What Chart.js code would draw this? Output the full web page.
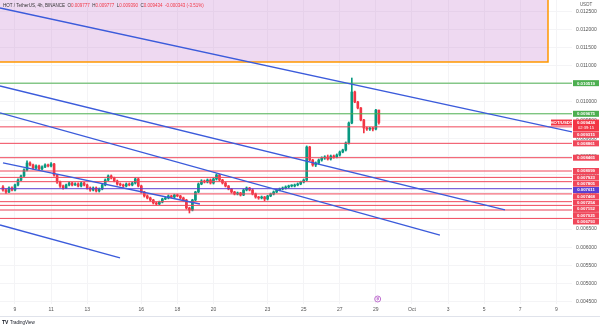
<!DOCTYPE html>
<html><head><meta charset="utf-8">
<script src="https://cdn.jsdelivr.net/npm/chart.js@4.4.1/dist/chart.umd.min.js"></script>
<style>
html,body{margin:0;padding:0;background:#fff;width:600px;height:327px;overflow:hidden}
canvas{display:block}
</style></head>
<body><canvas id="c" width="600" height="327"></canvas>
<script>
// ---- data ----
const START_DAY = 8 + 8/24;          // first candle: Sep 8, 08:00 (days counted in September)
const STEP_DAY = 4/24;               // 4h candles
const opens = [0.007659,0.007576,0.007521,0.007631,0.007576,0.007714,0.007851,0.007962,0.008127,0.008320,
0.008265,0.008182,0.008237,0.008155,0.008210,0.008265,0.008237,0.008292,0.007989,0.007796,
0.007686,0.007631,0.007714,0.007769,0.007714,0.007741,0.007686,0.007769,0.007714,0.007631,
0.007576,0.007631,0.007549,0.007604,0.007714,0.007851,0.007962,0.007907,0.007824,0.007741,
0.007714,0.007686,0.007741,0.007714,0.007769,0.007879,0.007686,0.007521,0.007411,0.007356,
0.007300,0.007218,0.007190,0.007245,0.007328,0.007356,0.007411,0.007383,0.007438,0.007411,
0.007356,0.007300,0.007080,0.007025,0.007300,0.007521,0.007741,0.007824,0.007796,0.007851,
0.007769,0.007879,0.007989,0.007851,0.007769,0.007686,0.007604,0.007521,0.007466,0.007494,
0.007438,0.007576,0.007631,0.007576,0.007466,0.007383,0.007356,0.007383,0.007328,0.007411,
0.007466,0.007521,0.007576,0.007604,0.007631,0.007659,0.007686,0.007686,0.007714,0.007741,
0.007796,0.007851,0.008760,0.008402,0.008265,0.008320,0.008402,0.008457,0.008485,0.008430,
0.008512,0.008485,0.008540,0.008623,0.008678,0.008871,0.009422,0.010276,0.010000,0.009835,
0.009504,0.009284,0.009256,0.009284,0.009256,0.009777];
const highs = [0.007700,0.007610,0.007660,0.007660,0.007740,0.007880,0.007990,0.008160,0.008380,0.008350,
0.008290,0.008270,0.008260,0.008240,0.008300,0.008290,0.008330,0.008310,0.008010,0.007820,
0.007710,0.007740,0.007800,0.007790,0.007770,0.007770,0.007800,0.007790,0.007740,0.007660,
0.007660,0.007660,0.007630,0.007740,0.007880,0.007990,0.007990,0.007930,0.007850,0.007770,
0.007740,0.007770,0.007770,0.007790,0.007910,0.007900,0.007710,0.007540,0.007440,0.007380,
0.007320,0.007240,0.007270,0.007350,0.007380,0.007440,0.007430,0.007460,0.007460,0.007430,
0.007380,0.007320,0.007100,0.007320,0.007540,0.007770,0.007860,0.007850,0.007880,0.007880,
0.007910,0.008020,0.008010,0.007870,0.007790,0.007700,0.007620,0.007540,0.007520,0.007510,
0.007600,0.007660,0.007650,0.007600,0.007490,0.007400,0.007410,0.007400,0.007430,0.007490,
0.007550,0.007600,0.007630,0.007660,0.007690,0.007710,0.007720,0.007740,0.007770,0.007820,
0.007880,0.008790,0.008780,0.008420,0.008350,0.008430,0.008490,0.008520,0.008540,0.008540,
0.008540,0.008570,0.008650,0.008700,0.008900,0.009450,0.010661,0.010300,0.010020,0.009850,
0.009520,0.009310,0.009300,0.009300,0.009800,0.009777];
const lows = [0.007540,0.007480,0.007500,0.007550,0.007550,0.007690,0.007830,0.007940,0.008100,0.008240,
0.008150,0.008160,0.008130,0.008130,0.008190,0.008210,0.008210,0.007960,0.007760,0.007650,
0.007600,0.007610,0.007690,0.007690,0.007700,0.007660,0.007660,0.007690,0.007600,0.007540,
0.007550,0.007520,0.007520,0.007580,0.007690,0.007830,0.007880,0.007800,0.007710,0.007690,
0.007650,0.007660,0.007690,0.007690,0.007740,0.007660,0.007490,0.007380,0.007330,0.007270,
0.007190,0.007160,0.007170,0.007220,0.007310,0.007330,0.007360,0.007360,0.007390,0.007330,
0.007270,0.007050,0.006942,0.007000,0.007280,0.007500,0.007720,0.007770,0.007770,0.007740,
0.007740,0.007850,0.007820,0.007740,0.007660,0.007580,0.007490,0.007440,0.007440,0.007410,
0.007420,0.007550,0.007550,0.007440,0.007350,0.007320,0.007330,0.007280,0.007300,0.007390,
0.007440,0.007500,0.007550,0.007580,0.007600,0.007630,0.007660,0.007660,0.007690,0.007720,
0.007770,0.007830,0.008380,0.008230,0.008220,0.008290,0.008370,0.008420,0.008400,0.008400,
0.008450,0.008460,0.008510,0.008600,0.008650,0.008840,0.009400,0.009980,0.009810,0.009480,
0.009146,0.009220,0.009220,0.009200,0.009230,0.009390];
const closes = [0.007576,0.007521,0.007631,0.007576,0.007714,0.007851,0.007962,0.008127,0.008320,0.008265,
0.008182,0.008237,0.008155,0.008210,0.008265,0.008237,0.008292,0.007989,0.007796,0.007686,
0.007631,0.007714,0.007769,0.007714,0.007741,0.007686,0.007769,0.007714,0.007631,0.007576,
0.007631,0.007549,0.007604,0.007714,0.007851,0.007962,0.007907,0.007824,0.007741,0.007714,
0.007686,0.007741,0.007714,0.007769,0.007879,0.007686,0.007521,0.007411,0.007356,0.007300,
0.007218,0.007190,0.007245,0.007328,0.007356,0.007411,0.007383,0.007438,0.007411,0.007356,
0.007300,0.007080,0.007025,0.007300,0.007521,0.007741,0.007824,0.007796,0.007851,0.007769,
0.007879,0.007989,0.007851,0.007769,0.007686,0.007604,0.007521,0.007466,0.007494,0.007438,
0.007576,0.007631,0.007576,0.007466,0.007383,0.007356,0.007383,0.007328,0.007411,0.007466,
0.007521,0.007576,0.007604,0.007631,0.007659,0.007686,0.007686,0.007714,0.007741,0.007796,
0.007851,0.008760,0.008402,0.008265,0.008320,0.008402,0.008457,0.008485,0.008430,0.008512,
0.008485,0.008540,0.008623,0.008678,0.008871,0.009422,0.010276,0.010000,0.009835,0.009504,
0.009284,0.009256,0.009284,0.009256,0.009777,0.009434];

const greenLevels  = [0.010519, 0.009675];
const redLevels    = [0.009315, 0.008861, 0.008465, 0.008099, 0.007923, 0.007805, 0.007468, 0.007254, 0.007152, 0.007025, 0.006793];
const purpleLevels = [0.007611];
const lastPrice = 0.009434;
const countdown = "02:39:15";

// trend lines: [day0, price0, day1, price1]
const trendLines = [
  [8.169, 0.012590, 39.87, 0.009174],
  [8.169, 0.010441, 36.155, 0.007025],
  [8.169, 0.009700, 32.55, 0.006330],
  [8.335, 0.008320, 19.25, 0.007190],
  [8.169, 0.006612, 14.82, 0.005703]
];
const zoneBox = {day0: 8.0, day1: 38.54, low: 0.011102, high: 0.0135};
const eventDay = 29.1;

const tickDays   = [9, 11, 13, 16, 18, 20, 23, 25, 27, 29, 31, 33, 35, 37, 39];
const tickLabels = ["9","11","13","16","18","20","23","25","27","29","Oct","3","5","7","9"];
const X_MIN = 8.169, X_MAX = 39.87;
const Y_MIN = 0.004435, Y_MAX = 0.01281;

// ---- colours ----
const UP = '#089981', DOWN = '#f23645';
const RED_L = '#f0475a', GREEN_L = '#4caf50', PURPLE_L = '#5c3fd1', TREND = '#3b5bdb';
const FONT = '"Liberation Sans", Arial, sans-serif';

const days = opens.map((_, i) => START_DAY + i * STEP_DAY);
const candleCol = opens.map((o, i) => closes[i] >= o ? UP : DOWN);

const datasets = [];
datasets.push({type:'bar', label:'wicks', data: days.map((d,i)=>({x:d, y:[lows[i], highs[i]]})),
  backgroundColor: candleCol, barThickness: 1, grouped:false, order: 5});
datasets.push({type:'bar', label:'bodies', data: days.map((d,i)=>({x:d, y:[opens[i], closes[i]]})),
  backgroundColor: candleCol, barThickness: 2, minBarLength: 1, grouped:false, order: 4});

function hLine(v, col){ return {type:'line', data:[{x:X_MIN,y:v},{x:X_MAX,y:v}], borderColor:col, borderWidth:1, pointRadius:0, order:1}; }
greenLevels.forEach(v=>datasets.push(hLine(v, GREEN_L)));
redLevels.forEach(v=>datasets.push(hLine(v, RED_L)));
purpleLevels.forEach(v=>datasets.push(hLine(v, PURPLE_L)));
trendLines.forEach(t=>datasets.push({type:'line', data:[{x:t[0],y:t[1]},{x:t[2],y:t[3]}], borderColor:TREND, borderWidth:1.3, pointRadius:0, order:0}));

const overlay = {
  id:'overlay',
  beforeDatasetsDraw(chart){
    const {ctx, scales:{x,y}, chartArea:a} = chart;
    const x0 = x.getPixelForValue(zoneBox.day0), x1 = x.getPixelForValue(zoneBox.day1);
    const yT = y.getPixelForValue(zoneBox.high), yB = y.getPixelForValue(zoneBox.low);
    ctx.save();
    ctx.beginPath(); ctx.rect(a.left, a.top, a.right-a.left, a.bottom-a.top); ctx.clip();
    ctx.fillStyle = 'rgba(186,104,200,0.25)';
    ctx.fillRect(x0, yT, x1-x0, yB-yT);
    ctx.strokeStyle = '#ff9800'; ctx.lineWidth = 1.5;
    ctx.strokeRect(x0, yT, x1-x0, yB-yT);
    ctx.restore();
  },
  afterDraw(chart){
    const {ctx, scales:{x,y}, chartArea:a} = chart;
    ctx.save();
    ctx.strokeStyle = '#e0e3eb'; ctx.lineWidth = 1;
    ctx.beginPath(); ctx.moveTo(0, 316.5); ctx.lineTo(600, 316.5); ctx.stroke();
    // price labels
    const items = [];
    greenLevels.forEach(v=>items.push({v, col:GREEN_L, h:6, t:[v.toFixed(6)]}));
    redLevels.forEach(v=>items.push({v, col:RED_L, h:6, t:[v.toFixed(6)]}));
    purpleLevels.forEach(v=>items.push({v, col:PURPLE_L, h:6, t:[v.toFixed(6)]}));
    items.push({v:lastPrice, col:DOWN, h:12, t:[lastPrice.toFixed(6), countdown], last:true});
    items.forEach(it=>{ it.y = y.getPixelForValue(it.v); it.yc = it.last ? it.y + 3 : it.y; });
    items.sort((p,q)=>p.yc-q.yc);
    let prevBottom = -1e9;
    items.forEach(it=>{
      let top = it.last ? it.y - 3 : it.y - it.h/2;
      if (top < prevBottom + 0.3) top = prevBottom + 0.3;
      it.top = top; prevBottom = top + it.h;
    });
    ctx.font = `bold 4.3px ${FONT}`; ctx.textBaseline = 'middle'; ctx.textAlign = 'center';
    items.forEach(it=>{
      ctx.fillStyle = it.col;
      ctx.fillRect(a.right+1, it.top, 26, it.h);
      ctx.fillStyle = '#fff';
      if (it.t.length === 1) ctx.fillText(it.t[0], a.right+14, it.top + it.h/2 + 0.3);
      else { ctx.fillText(it.t[0], a.right+14, it.top + 3.2); ctx.font = `4.1px ${FONT}`; ctx.fillText(it.t[1], a.right+14, it.top + 8.8); ctx.font = `bold 4.3px ${FONT}`; }
      if (it.last) {
        ctx.fillStyle = it.col;
        ctx.fillRect(a.right-21, it.top, 21, 6);
        ctx.fillStyle = '#fff';
        ctx.fillText('HOT/USDT', a.right-10.5, it.top + 3.3);
      }
    });
    // header
    ctx.textAlign = 'left'; ctx.textBaseline = 'alphabetic';
    ctx.font = `4.5px ${FONT}`;
    let cx = 3; const by = 6.6;
    const seg = (s, col) => { ctx.fillStyle = col; ctx.fillText(s, cx, by); cx += ctx.measureText(s).width; };
    seg('HOT / TetherUS, 4h, BINANCE  ', '#333');
    seg('O', '#333'); seg('0.009777  ', DOWN);
    seg('H', '#333'); seg('0.009777  ', DOWN);
    seg('L', '#333'); seg('0.009390  ', DOWN);
    seg('C', '#333'); seg('0.009434  ', DOWN);
    seg('-0.000343 (-3.51%)', DOWN);
    ctx.fillStyle = '#555'; ctx.textAlign = 'center';
    ctx.fillText('USDT', a.right + 14, 5.5);
    // event marker
    const ex = x.getPixelForValue(eventDay);
    ctx.strokeStyle = '#b04fc4'; ctx.lineWidth = 0.8;
    ctx.beginPath(); ctx.arc(ex, a.bottom - 5, 3, 0, Math.PI*2); ctx.stroke();
    ctx.fillStyle = '#b04fc4'; ctx.font = `bold 3.5px ${FONT}`; ctx.textBaseline='middle';
    ctx.fillText('₿', ex, a.bottom - 4.8);
    // logo
    ctx.textAlign = 'left'; ctx.textBaseline = 'alphabetic';
    ctx.fillStyle = '#131722'; ctx.font = `bold 5px ${FONT}`;
    ctx.fillText('TV', 2, 323.5);
    ctx.font = `4.5px ${FONT}`; ctx.fillText('TradingView', 10, 323.5);
    ctx.restore();
  }
};

new Chart(document.getElementById('c'), {
  type:'bar',
  data:{datasets},
  options:{
    responsive:false, animation:false, events:[],
    layout:{padding:{left:0, right:0, top:0, bottom:10}},
    plugins:{legend:{display:false}, tooltip:{enabled:false}},
    scales:{
      x:{type:'linear', min:X_MIN, max:X_MAX, offset:false,
         grid:{color:'#f4f4f6', drawTicks:false, offset:false}, border:{display:false},
         afterBuildTicks: s => { s.ticks = tickDays.map(v=>({value:v})); },
         ticks:{callback:(v,i)=>tickLabels[i], font:{size:5, family:FONT}, color:'#555', padding:2.5, maxRotation:0, autoSkip:false},
         afterFit: s => { s.height = 13; s.paddingLeft = 0; s.paddingRight = 0; }},
      y:{position:'right', min:Y_MIN, max:Y_MAX,
         grid:{color:'#f4f4f6', drawTicks:false}, border:{display:false},
         ticks:{stepSize:0.0005, includeBounds:false, autoSkip:false, callback:v=>Number(v).toFixed(6), font:{size:5, family:FONT}, color:'#555', padding:4},
         afterFit: s => { s.width = 28; s.paddingTop = 0; s.paddingBottom = 0; }}
    }
  },
  plugins:[overlay]
});
</script>
</body></html>
